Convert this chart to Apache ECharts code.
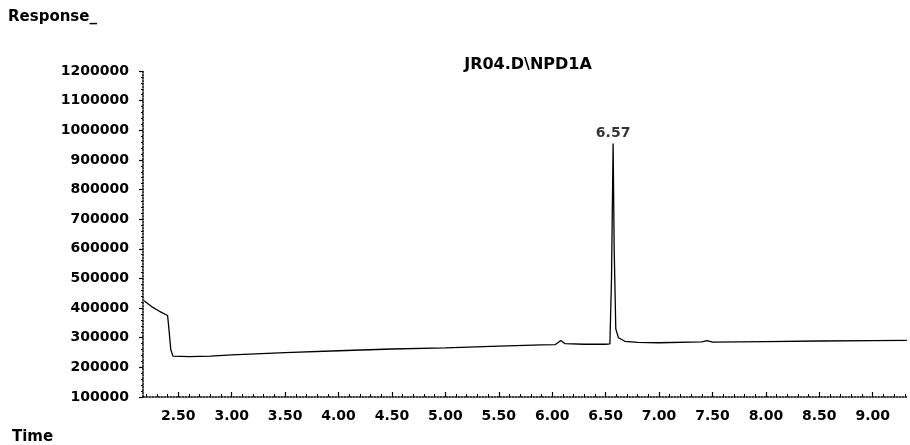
<!DOCTYPE html>
<html>
<head>
<meta charset="utf-8">
<script src="https://cdn.jsdelivr.net/npm/echarts@6/dist/echarts.min.js"></script>
<style>
html,body{margin:0;padding:0;background:#fff;}
#chart{width:910px;height:445px;}
</style>
</head>
<body>
<div id="chart"></div>
<script>
// Retention time (min)
var times = [2.18, 2.25, 2.32, 2.40, 2.41, 2.43, 2.45, 2.60, 2.80, 3.00, 3.50, 4.00, 4.50, 5.00, 5.50, 5.90, 6.03, 6.08, 6.12, 6.30, 6.50, 6.54, 6.555, 6.57, 6.58, 6.595, 6.62, 6.68, 6.80, 7.00, 7.40, 7.45, 7.50, 8.00, 8.50, 9.00, 9.32];
// Detector response
var responses = [425000, 405000, 390000, 375000, 340000, 260000, 238000, 236000, 238000, 242000, 250000, 256000, 262000, 266000, 272000, 276000, 277000, 291000, 280000, 278000, 278000, 279000, 500000, 955000, 600000, 330000, 300000, 288000, 284000, 283000, 286000, 290000, 285000, 287000, 289000, 290000, 291000];
// Peak annotation
var peakTime = [6.57];
var peakValue = [955000];
var peakLabel = ['6.57'];
// Axis tick labels
var xTickLabels = [2.50, 3.00, 3.50, 4.00, 4.50, 5.00, 5.50, 6.00, 6.50, 7.00, 7.50, 8.00, 8.50, 9.00];
var yTickLabels = [100000, 200000, 300000, 400000, 500000, 600000, 700000, 800000, 900000, 1000000, 1100000, 1200000];
var titleText = 'JR04.D\\NPD1A';
var yName = 'Response_';
var xName = 'Time';

var minorX = [];
for (var k = 22; k <= 93; k++) { minorX.push(k / 10); }

var lineData = times.map(function (t, i) { return [t, responses[i]]; });
var peakData = peakTime.map(function (t, i) { return [t, peakValue[i]]; });

var font = 'DejaVu Sans';
var chart = echarts.init(document.getElementById('chart'), null, {renderer: 'canvas'});
chart.setOption({
  animation: false,
  backgroundColor: '#ffffff',
  title: {
    text: titleText,
    left: 523, top: 52, textAlign: 'center',
    textStyle: {fontFamily: font, fontWeight: 'bold', fontSize: 16, color: '#000'}
  },
  graphic: [
    {type: 'text', left: 8, top: 10, style: {text: yName, font: 'bold 15px "DejaVu Sans"', fill: '#000'}},
    {type: 'text', left: 12, top: 430, style: {text: xName, font: 'bold 15px "DejaVu Sans"', fill: '#000'}}
  ],
  grid: {left: 143, right: 2, top: 71, bottom: 48, containLabel: false},
  xAxis: [{
    type: 'value', min: 2.17, max: 9.33,
    splitLine: {show: false},
    axisLine: {show: true, lineStyle: {color: '#000', type: 'dotted', width: 1.5}},
    axisTick: {show: true, customValues: xTickLabels, length: 5, inside: true, lineStyle: {color: '#000', width: 1.2}},
    axisLabel: {
      customValues: xTickLabels, margin: 12, color: '#000',
      fontFamily: font, fontWeight: 'bold', fontSize: 14,
      formatter: function (v) { return v.toFixed(2); }
    }
  }, {
    type: 'value', min: 2.17, max: 9.33, position: 'bottom',
    splitLine: {show: false},
    axisLine: {show: false},
    axisTick: {show: true, customValues: minorX, length: 3, inside: true, lineStyle: {color: '#000', width: 1}},
    axisLabel: {show: false}
  }],
  yAxis: {
    type: 'value', min: 100000, max: 1200000, interval: 100000,
    splitLine: {show: false},
    axisLine: {show: true, lineStyle: {color: '#000', type: 'dotted', width: 1.5}},
    axisTick: {show: true, length: 4, lineStyle: {color: '#000', width: 1.2}},
    minorTick: {show: true, splitNumber: 5, length: 2, lineStyle: {color: '#000'}},
    axisLabel: {
      margin: 14, color: '#000', fontFamily: font, fontWeight: 'bold', fontSize: 14,
      formatter: function (v) { return String(v); }
    }
  },
  series: [{
    type: 'line', xAxisIndex: 0, data: lineData, showSymbol: false, symbol: 'none',
    lineStyle: {color: '#000', width: 1.3}, silent: true
  }, {
    type: 'scatter', xAxisIndex: 0, data: peakData, symbolSize: 0.1,
    itemStyle: {color: '#000'},
    label: {
      show: true, position: 'top', distance: 3, color: '#000',
      fontFamily: font, fontWeight: 'bold', fontSize: 14,
      formatter: function (p) { return peakLabel[p.dataIndex]; }
    }
  }]
});
</script>
</body>
</html>
